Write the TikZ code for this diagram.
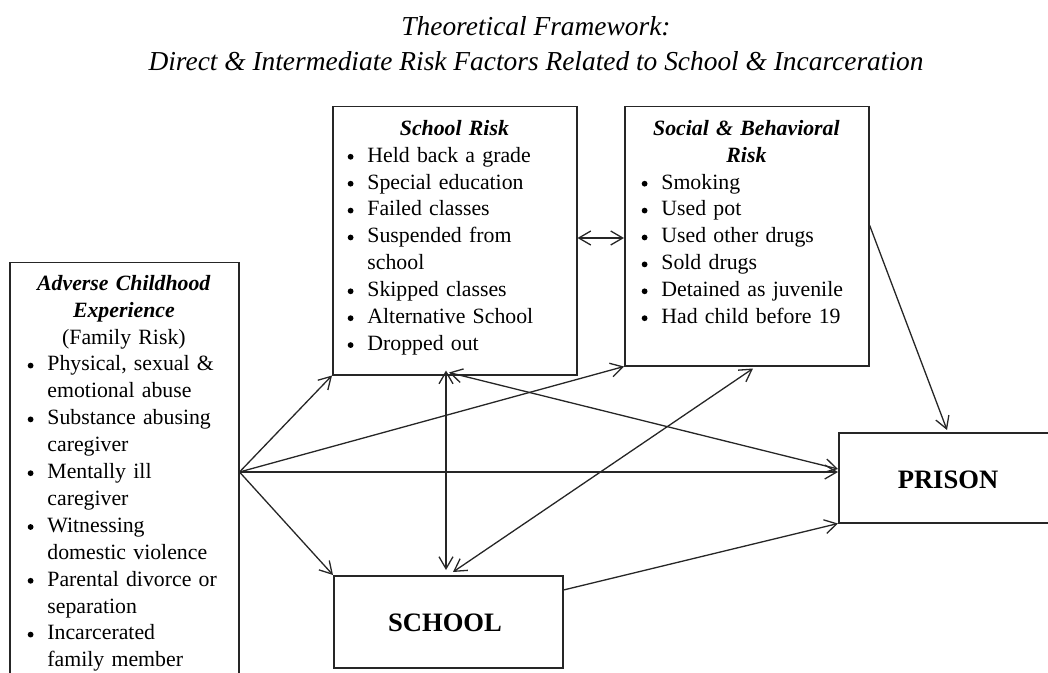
\documentclass[tikz,border=0pt]{standalone}
\usepackage{fontspec}
\setmainfont{Liberation Serif}
\usetikzlibrary{arrows.meta,calc}

\newcommand{\dotb}{\tikz[baseline=0pt]{\path (0pt,0pt); \fill (1.6pt,2.7pt) circle (1.45pt);}}
\newcommand{\bitem}[1]{\par\noindent\makebox[10pt][l]{\dotb}\mbox{#1}}
\newcommand{\bcont}[1]{\par\noindent\hspace*{10pt}\mbox{#1}}
\newcommand{\bhead}[1]{\par\noindent\hbox to\hsize{\hss\rule{0pt}{10pt}#1\hss}}

\colorlet{ln}{black!85}
\tikzset{
  box/.style={draw=ln, line width=0.75pt, inner sep=0pt},
  txt/.style={anchor=north west, inner sep=0pt, align=left,
    font=\fontsize{10.9}{13.45}\selectfont},
  lbl/.style={inner sep=0pt, font=\fontsize{13.3}{16}\selectfont\bfseries},
  ttl/.style={inner sep=0pt, align=center, font=\fontsize{13.7}{17.5}\selectfont\itshape},
  arr/.style={draw=ln, line width=0.65pt, -{Straight Barb[length=6pt,width=7pt]}},
  darr/.style={draw=ln, line width=0.65pt, {Straight Barb[length=6pt,width=7pt]}-{Straight Barb[length=6pt,width=7pt]}}
}

\begin{document}
\begin{tikzpicture}[x=0.5pt,y=-0.5pt]
\useasboundingbox (0,0) rectangle (1048,673);
\clip (0,0) rectangle (1048,673);

% title
\node[ttl] (title) at (536,44) {Theoretical Framework:\\Direct \& Intermediate Risk Factors Related to School \& Incarceration};

% boxes
\node[box, anchor=north west, minimum width=114.5pt, minimum height=219pt] (ace) at (9,262) {};
\node[box, anchor=north west, minimum width=122pt, minimum height=134pt] (sr) at (332,106) {};
\node[box, anchor=north west, minimum width=122pt, minimum height=129.5pt] (sb) at (624,106) {};
\node[box, anchor=north west, minimum width=110.5pt, minimum height=45pt] (prison) at (838,432) {};
\node[box, anchor=north west, minimum width=114.5pt, minimum height=46pt] (school) at (333,575) {};

% texts
\node[txt, text width=96.5pt] (acetxt) at (27,263) {%
\bhead{\textbf{\textit{Adverse Childhood}}}
\bhead{\textbf{\textit{Experience}}}
\bhead{(Family Risk)}
\bitem{Physical, sexual \&}
\bcont{emotional abuse}
\bitem{Substance abusing}
\bcont{caregiver}
\bitem{Mentally ill}
\bcont{caregiver}
\bitem{Witnessing}
\bcont{domestic violence}
\bitem{Parental divorce or}
\bcont{separation}
\bitem{Incarcerated}
\bcont{family member}\par};

\node[txt, text width=107pt] (srtxt) at (347,108) {%
\bhead{\textbf{\textit{School Risk}}}
\bitem{Held back a grade}
\bitem{Special education}
\bitem{Failed classes}
\bitem{Suspended from}
\bcont{school}
\bitem{Skipped classes}
\bitem{Alternative School}
\bitem{Dropped out}\par};

\node[txt, text width=105pt] (sbtxt) at (641,108) {%
\bhead{\textbf{\textit{Social \& Behavioral}}}
\bhead{\textbf{\textit{Risk}}}
\bitem{Smoking}
\bitem{Used pot}
\bitem{Used other drugs}
\bitem{Sold drugs}
\bitem{Detained as juvenile}
\bitem{Had child before 19}\par};

\node[lbl] (prisonlbl) at (948,480) {PRISON};
\node[lbl] (schoollbl) at (445,623) {SCHOOL};

% connectors
\coordinate (aceout) at ($(ace.north east)+(0,210)$);
\draw[arr] (aceout) -- (sr.south west);
\draw[arr] (aceout) -- (sb.south west);
\draw[arr] (aceout) -- (aceout -| prison.west);
\draw[arr] (aceout) -- (school.north west);
\draw[darr] ($(sr.north east)+(0,132)$) -- ($(sb.north west)+(0,132)$);
\draw[darr] ($(sr.south west)+(114,-5)$) -- ($(school.north west)+(113,-5)$);
\draw[darr] ($(sr.south west)+(117,-3)$) -- ($(prison.north west)+(0,37)$);
\draw[darr] ($(sb.south west)+(129,2)$) -- ($(school.north west)+(120,-3)$);
\draw[arr] ($(sb.north east)+(0,119)$) -- ($(prison.north west)+(109,-2)$);
\draw[arr] ($(school.north east)+(0,15)$) -- (prison.south west);
\end{tikzpicture}
\end{document}
